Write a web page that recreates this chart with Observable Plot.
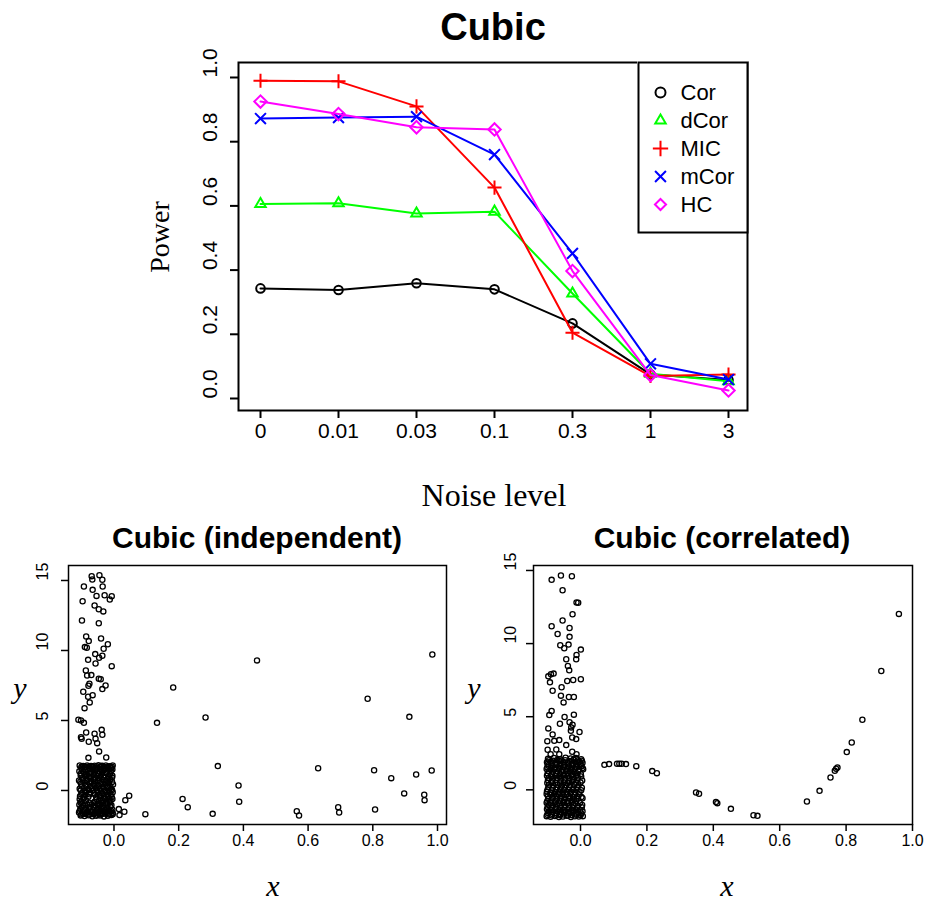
<!DOCTYPE html>
<html><head><meta charset="utf-8">
<script src="https://cdn.jsdelivr.net/npm/d3@7"></script>
<script src="https://cdn.jsdelivr.net/npm/@observablehq/plot@0.6"></script>
<style>
html,body{margin:0;padding:0;background:#fff;}
#root{position:relative;width:927px;height:904px;overflow:hidden;font-family:"Liberation Sans",Arial,sans-serif;}
.abs{position:absolute;}
.ttl{font-family:"Liberation Sans",Arial,sans-serif;font-weight:bold;color:#000;white-space:nowrap;transform:translate(-50%,-50%);line-height:1;}
.serif{font-family:"Liberation Serif","Times New Roman",serif;white-space:nowrap;transform:translate(-50%,-50%);line-height:1;color:#000;}
.abs svg{overflow:visible;}
</style></head><body><div id="root"></div>
<script>
// ---------------- data ----------------
const noiseLevels = ["0", "0.01", "0.03", "0.1", "0.3", "1", "3"];
const methods = ["Cor", "dCor", "MIC", "mCor", "HC"];
const powerCor  = [0.343, 0.338, 0.359, 0.340, 0.234, 0.075, 0.058];
const powerDCor = [0.606, 0.608, 0.576, 0.582, 0.327, 0.077, 0.054];
const powerMIC  = [0.990, 0.988, 0.910, 0.657, 0.205, 0.070, 0.075];
const powerMCor = [0.872, 0.875, 0.878, 0.760, 0.452, 0.108, 0.059];
const powerHC   = [0.925, 0.886, 0.845, 0.838, 0.397, 0.073, 0.025];
const powerTicks = [0, 0.2, 0.4, 0.6, 0.8, 1.0];

const scatterXTicks = [0, 0.2, 0.4, 0.6, 0.8, 1.0];
const scatterYTicks = [0, 5, 10, 15];

// independent: sparse points along x
const indepSparse = [[0.984,9.71],[0.442,9.29],[0.183,7.36],[0.784,6.55],[0.913,5.26],[0.283,5.21],[0.133,4.83],[0.321,1.74],[0.631,1.59],[0.804,1.45],[0.982,1.43],[0.934,1.14],[0.857,0.88],[0.385,0.36],[0.897,-0.21],[0.959,-0.31],[0.960,-0.69],[0.212,-0.60],[0.047,-0.38],[0.035,-0.69],[0.228,-1.19],[0.387,-0.81],[0.015,-1.33],[0.032,-1.52],[0.017,-1.76],[0.097,-1.69],[0.305,-1.67],[0.565,-1.48],[0.572,-1.79],[0.693,-1.19],[0.696,-1.57],[0.807,-1.36]];
// independent: tall column near x < 0
const indepColumn = [[-0.069,15.31],[-0.045,15.38],[-0.067,15.07],[-0.036,15.05],[-0.093,14.57],[-0.035,14.57],[-0.066,14.33],[-0.054,13.90],[-0.029,13.95],[-0.007,13.88],[-0.013,13.64],[-0.097,13.52],[-0.060,13.21],[-0.047,12.95],[-0.033,12.79],[-0.099,12.14],[-0.047,11.95],[-0.086,11.00],[-0.040,10.86],[-0.078,10.67],[-0.019,10.45],[-0.090,10.24],[-0.084,10.19],[-0.032,10.12],[-0.058,9.74],[-0.036,9.62],[-0.080,9.33],[-0.046,9.48],[-0.057,9.07],[-0.007,8.88],[-0.087,8.57],[-0.083,8.21],[-0.070,8.24],[-0.047,7.98],[-0.041,7.95],[-0.076,7.62],[-0.079,7.48],[-0.026,7.50],[-0.036,7.24],[-0.095,7.05],[-0.066,6.81],[-0.080,6.69],[-0.075,6.29],[-0.091,5.88],[-0.110,5.05],[-0.102,5.00],[-0.093,4.83],[-0.038,4.33],[-0.086,4.14],[-0.060,4.05],[-0.036,3.98],[-0.102,3.81],[-0.100,3.69],[-0.057,3.69],[-0.078,3.48],[-0.052,3.38],[-0.046,2.79],[-0.079,2.33],[-0.024,2.36]];
// independent: dense block
const indepBlock = [
[-0.106,1.78],[-0.095,1.75],[-0.083,1.79],[-0.071,1.74],[-0.060,1.77],[-0.048,1.80],[-0.037,1.76],[-0.025,1.78],[-0.013,1.73],[-0.004,1.79],
[-0.100,1.71],[-0.089,1.69],[-0.077,1.72],[-0.065,1.70],[-0.054,1.73],[-0.042,1.71],[-0.031,1.69],[-0.019,1.72],[-0.007,1.70],
[-0.101,1.62],[-0.089,1.66],[-0.077,1.60],[-0.066,1.64],[-0.054,1.58],[-0.042,1.67],[-0.031,1.61],[-0.019,1.65],[-0.008,1.59],
[-0.100,1.52],[-0.088,1.47],[-0.076,1.54],[-0.064,1.49],[-0.052,1.51],[-0.040,1.46],[-0.028,1.53],[-0.016,1.48],[-0.005,1.50],
[-0.107,1.38],[-0.094,1.31],[-0.081,1.40],[-0.070,1.29],[-0.058,1.36],[-0.045,1.33],[-0.033,1.42],[-0.022,1.30],[-0.010,1.37],
[-0.102,1.22],[-0.087,1.18],[-0.074,1.24],[-0.061,1.17],[-0.049,1.21],[-0.037,1.19],[-0.025,1.25],[-0.012,1.16],
[-0.103,1.08],[-0.090,1.02],[-0.078,0.99],[-0.064,1.11],[-0.052,1.04],[-0.041,0.97],[-0.028,1.09],[-0.016,1.01],[-0.005,1.06],
[-0.099,0.88],[-0.085,0.93],[-0.072,0.86],[-0.058,0.91],[-0.046,0.89],[-0.031,0.94],[-0.019,0.87],[-0.006,0.92],
[-0.108,0.71],[-0.096,0.78],[-0.084,0.74],[-0.072,0.69],[-0.061,0.80],[-0.049,0.73],[-0.036,0.76],[-0.024,0.70],[-0.012,0.79],
[-0.104,0.62],[-0.091,0.57],[-0.069,0.60],[-0.057,0.64],[-0.043,0.56],[-0.030,0.63],[-0.018,0.59],[-0.006,0.61],
[-0.102,0.48],[-0.088,0.42],[-0.075,0.51],[-0.063,0.44],[-0.051,0.39],[-0.039,0.47],[-0.027,0.41],[-0.015,0.50],[-0.003,0.43],
[-0.100,0.28],[-0.086,0.33],[-0.073,0.26],[-0.060,0.31],[-0.047,0.34],[-0.034,0.27],[-0.021,0.32],[-0.011,0.29],
[-0.106,0.12],[-0.093,0.18],[-0.080,0.09],[-0.068,0.16],[-0.056,0.20],[-0.044,0.11],[-0.032,0.14],[-0.020,0.19],[-0.009,0.08],
[-0.103,0.02],[-0.090,-0.03],[-0.077,0.04],[-0.064,-0.01],[-0.052,0.03],[-0.040,-0.04],[-0.028,0.01],[-0.016,-0.02],[-0.006,0.03],
[-0.099,-0.18],[-0.087,-0.11],[-0.074,-0.16],[-0.062,-0.21],[-0.050,-0.13],[-0.038,-0.19],[-0.026,-0.09],[-0.014,-0.17],[-0.004,-0.12],
[-0.101,-0.28],[-0.089,-0.33],[-0.075,-0.27],[-0.058,-0.31],[-0.045,-0.34],[-0.033,-0.26],[-0.020,-0.30],[-0.010,-0.32],
[-0.105,-0.42],[-0.092,-0.49],[-0.079,-0.44],[-0.055,-0.47],[-0.043,-0.41],[-0.030,-0.51],[-0.018,-0.43],[-0.007,-0.46],
[-0.106,-0.62],[-0.094,-0.58],[-0.054,-0.61],[-0.041,-0.57],[-0.028,-0.63],[-0.016,-0.59],[-0.005,-0.60],
[-0.101,-0.78],[-0.086,-0.71],[-0.060,-0.80],[-0.047,-0.73],[-0.035,-0.69],[-0.023,-0.77],[-0.011,-0.74],
[-0.103,-0.88],[-0.090,-0.93],[-0.076,-0.87],[-0.063,-0.91],[-0.050,-0.94],[-0.038,-0.89],[-0.026,-0.92],[-0.013,-0.86],
[-0.107,-1.02],[-0.095,-1.09],[-0.082,-1.04],[-0.069,-0.99],[-0.057,-1.08],[-0.045,-1.03],[-0.032,-1.11],[-0.020,-1.00],[-0.008,-1.06],
[-0.100,-1.18],[-0.088,-1.23],[-0.075,-1.20],[-0.062,-1.16],[-0.049,-1.24],[-0.036,-1.19],[-0.024,-1.22],[-0.011,-1.17],
[-0.104,-1.33],[-0.091,-1.38],[-0.078,-1.30],[-0.065,-1.41],[-0.053,-1.36],[-0.040,-1.31],[-0.029,-1.39],[-0.016,-1.34],[-0.005,-1.37],
[-0.106,-1.47],[-0.093,-1.50],[-0.081,-1.46],[-0.068,-1.52],[-0.056,-1.48],[-0.044,-1.45],[-0.033,-1.51],[-0.020,-1.49],[-0.009,-1.46],
[-0.108,-1.58],[-0.097,-1.63],[-0.085,-1.60],[-0.072,-1.56],[-0.061,-1.64],[-0.049,-1.59],[-0.037,-1.62],[-0.026,-1.57],[-0.014,-1.65],[-0.004,-1.61],
[-0.101,-1.71],[-0.088,-1.68],[-0.075,-1.72],[-0.063,-1.69],[-0.051,-1.73],[-0.039,-1.70],[-0.027,-1.67],[-0.015,-1.72],[-0.004,-1.69],
[-0.103,-1.79],[-0.091,-1.83],[-0.079,-1.77],[-0.067,-1.84],[-0.055,-1.80],[-0.043,-1.78],[-0.031,-1.85],[-0.019,-1.81],[-0.008,-1.76]
];

// correlated: points along the cubic curve
const corrCurve = [[0.072,1.71],[0.086,1.76],[0.110,1.78],[0.117,1.78],[0.124,1.78],[0.137,1.76],[0.168,1.62],[0.216,1.28],[0.230,1.14],[0.348,-0.18],[0.357,-0.27],[0.408,-0.84],[0.412,-0.91],[0.453,-1.30],[0.521,-1.74],[0.533,-1.78],[0.682,-0.80],[0.720,-0.07],[0.753,0.84],[0.766,1.30],[0.770,1.44],[0.774,1.53],[0.802,2.58],[0.817,3.24],[0.849,4.79],[0.906,8.13],[0.959,12.03]];
// correlated: tall column near x < 0
const corrColumn = [[-0.087,14.36],[-0.059,14.66],[-0.026,14.61],[-0.054,13.65],[-0.012,12.81],[-0.007,12.79],[-0.024,12.01],[-0.054,11.58],[-0.087,11.19],[-0.069,10.66],[-0.033,11.07],[-0.033,10.46],[-0.061,9.89],[-0.049,9.68],[-0.036,9.93],[0.001,9.59],[-0.012,9.22],[-0.013,8.93],[-0.043,8.93],[-0.038,8.47],[-0.034,8.17],[-0.097,7.76],[-0.089,7.90],[-0.081,7.95],[-0.092,7.35],[-0.040,7.44],[-0.022,7.51],[0.001,7.56],[-0.057,7.01],[-0.084,6.78],[-0.059,6.44],[-0.035,6.35],[-0.020,6.35],[-0.051,5.98],[-0.087,5.39],[-0.094,5.11],[-0.048,4.98],[-0.020,5.14],[-0.033,4.63],[-0.062,4.52],[-0.024,4.45],[-0.028,4.27],[-0.029,4.04],[-0.003,3.95],[-0.097,4.20],[-0.084,3.79],[-0.025,3.58],[-0.013,3.47],[-0.100,3.33],[-0.079,3.35],[-0.064,3.40],[-0.043,3.06],[-0.099,2.74],[-0.073,2.76],[-0.025,2.60],[-0.090,2.44],[-0.064,2.44],[-0.012,2.44]];
// correlated: dense block
const corrBlock = [
[-0.098,2.12],[-0.080,2.18],[-0.061,2.10],[-0.045,2.20],[-0.030,2.14],[-0.014,2.17],[0.002,2.09],
[-0.095,2.02],[-0.083,1.99],[-0.070,2.04],[-0.058,2.00],[-0.046,2.03],[-0.033,1.98],[-0.021,2.05],[-0.008,2.01],[0.004,1.99],
[-0.101,1.88],[-0.089,1.93],[-0.076,1.86],[-0.064,1.95],[-0.052,1.90],[-0.039,1.87],[-0.027,1.94],[-0.015,1.89],[-0.003,1.92],[0.006,1.85],
[-0.099,1.78],[-0.087,1.75],[-0.074,1.79],[-0.062,1.76],[-0.050,1.80],[-0.037,1.74],[-0.025,1.78],[-0.013,1.77],[0.000,1.75],
[-0.097,1.66],[-0.085,1.61],[-0.072,1.69],[-0.060,1.63],[-0.048,1.67],[-0.035,1.60],[-0.023,1.68],[-0.011,1.64],[0.003,1.62],
[-0.100,1.54],[-0.088,1.50],[-0.075,1.53],[-0.063,1.49],[-0.050,1.55],[-0.038,1.51],[-0.026,1.48],[-0.013,1.53],[0.006,1.50],
[-0.102,1.42],[-0.090,1.37],[-0.078,1.44],[-0.066,1.39],[-0.054,1.35],[-0.041,1.43],[-0.029,1.38],[-0.017,1.41],[-0.005,1.36],[0.008,1.40],
[-0.096,1.27],[-0.083,1.22],[-0.069,1.26],[-0.057,1.23],[-0.044,1.28],[-0.031,1.24],[-0.019,1.21],[-0.007,1.26],
[-0.099,1.12],[-0.086,1.06],[-0.073,1.14],[-0.061,1.09],[-0.049,1.04],[-0.037,1.11],[-0.025,1.07],[-0.012,1.13],[0.001,1.08],
[-0.101,0.97],[-0.089,0.93],[-0.076,0.96],[-0.064,0.92],[-0.052,0.98],[-0.040,0.94],[-0.027,0.99],[-0.014,0.95],[0.002,0.91],
[-0.096,0.83],[-0.083,0.77],[-0.070,0.81],[-0.058,0.85],[-0.046,0.78],[-0.033,0.82],[-0.020,0.76],[-0.008,0.84],
[-0.098,0.66],[-0.085,0.62],[-0.072,0.68],[-0.060,0.63],[-0.047,0.67],[-0.035,0.61],[-0.022,0.65],[-0.010,0.69],[0.005,0.64],
[-0.100,0.47],[-0.088,0.53],[-0.075,0.49],[-0.062,0.44],[-0.050,0.52],[-0.038,0.46],[-0.026,0.55],[-0.013,0.48],[0.000,0.51],
[-0.095,0.34],[-0.082,0.30],[-0.069,0.35],[-0.056,0.29],[-0.044,0.33],[-0.031,0.31],[-0.019,0.36],[-0.006,0.30],
[-0.097,0.18],[-0.084,0.12],[-0.071,0.16],[-0.059,0.21],[-0.047,0.13],[-0.034,0.19],[-0.022,0.10],[-0.010,0.17],[0.004,0.14],
[-0.099,0.02],[-0.086,-0.03],[-0.074,0.01],[-0.061,0.04],[-0.049,-0.02],[-0.036,0.03],[-0.024,-0.01],[-0.012,0.02],[0.002,-0.03],
[-0.101,-0.12],[-0.089,-0.18],[-0.077,-0.14],[-0.064,-0.20],[-0.052,-0.11],[-0.040,-0.17],[-0.028,-0.13],[-0.016,-0.19],[-0.003,-0.15],
[-0.102,-0.28],[-0.091,-0.32],[-0.079,-0.27],[-0.066,-0.33],[-0.054,-0.29],[-0.042,-0.31],[-0.030,-0.26],[-0.017,-0.34],[-0.005,-0.30],
[-0.098,-0.43],[-0.085,-0.48],[-0.073,-0.41],[-0.060,-0.46],[-0.048,-0.50],[-0.035,-0.42],[-0.023,-0.47],[-0.010,-0.44],[0.003,-0.49],
[-0.097,-0.62],[-0.084,-0.58],[-0.071,-0.63],[-0.058,-0.59],[-0.045,-0.61],[-0.032,-0.57],[-0.019,-0.64],[-0.007,-0.60],[0.006,-0.58],
[-0.100,-0.77],[-0.087,-0.72],[-0.074,-0.79],[-0.062,-0.74],[-0.049,-0.70],[-0.037,-0.78],[-0.025,-0.73],[-0.013,-0.76],
[-0.102,-0.88],[-0.090,-0.92],[-0.077,-0.87],[-0.064,-0.93],[-0.052,-0.89],[-0.040,-0.91],[-0.027,-0.86],[-0.015,-0.94],[-0.002,-0.90],
[-0.096,-1.03],[-0.083,-1.08],[-0.071,-1.01],[-0.058,-1.10],[-0.046,-1.05],[-0.034,-1.07],[-0.021,-1.02],[-0.008,-1.09],[0.005,-1.04],
[-0.099,-1.18],[-0.087,-1.23],[-0.074,-1.19],[-0.061,-1.22],[-0.048,-1.17],[-0.035,-1.24],[-0.023,-1.20],[-0.010,-1.21],[0.004,-1.19],
[-0.101,-1.33],[-0.088,-1.38],[-0.076,-1.31],[-0.063,-1.36],[-0.051,-1.40],[-0.039,-1.32],[-0.026,-1.37],[-0.014,-1.34],[-0.001,-1.39],
[-0.096,-1.47],[-0.083,-1.50],[-0.070,-1.46],[-0.058,-1.52],[-0.045,-1.48],[-0.033,-1.51],[-0.020,-1.45],[-0.008,-1.49],[0.006,-1.47],
[-0.098,-1.58],[-0.086,-1.63],[-0.073,-1.60],[-0.061,-1.65],[-0.048,-1.57],[-0.036,-1.62],[-0.024,-1.59],[-0.011,-1.64],[0.002,-1.61],
[-0.100,-1.71],[-0.087,-1.74],[-0.074,-1.70],[-0.062,-1.73],[-0.050,-1.69],[-0.038,-1.75],[-0.026,-1.72],[-0.013,-1.70],[0.000,-1.73],
[-0.102,-1.80],[-0.090,-1.84],[-0.077,-1.79],[-0.065,-1.86],[-0.053,-1.82],[-0.041,-1.78],[-0.029,-1.85],[-0.017,-1.81],[-0.005,-1.83],[0.007,-1.80]
];

// ---------------- styling ----------------
const methodColors = ["#000000", "#00ff00", "#ff0000", "#0000ff", "#ff00ff"];
const methodSymbols = ["circle", "triangle2", "plus", "times", "diamond2"];
const methodR = {Cor: 4.3, dCor: 5.0, MIC: 4.6, mCor: 5.0, HC: 5.6};
const sans = "'Liberation Sans', Arial, Helvetica, sans-serif";

const powerSeries = [powerCor, powerDCor, powerMIC, powerMCor, powerHC];
const rows = [];
methods.forEach((m, i) => powerSeries[i].forEach((v, j) => rows.push({method: m, noise: noiseLevels[j], power: v})));

const root = document.getElementById("root");
function place(node, left, top) {
  const d = document.createElement("div");
  d.className = "abs";
  d.style.left = left + "px"; d.style.top = top + "px";
  d.appendChild(node);
  root.appendChild(d);
  return d;
}
function label(text, cls, x, y, size, extra) {
  const d = document.createElement("div");
  d.className = "abs " + cls;
  d.textContent = text;
  d.style.left = x + "px"; d.style.top = y + "px";
  d.style.fontSize = size + "px";
  if (extra) Object.assign(d.style, extra);
  root.appendChild(d);
  return d;
}

// ---------------- top chart ----------------
const seriesMarks = [];
methods.forEach(m => {
  const sub = rows.filter(r => r.method === m);
  seriesMarks.push(Plot.line(sub, {x: "noise", y: "power", stroke: "method", strokeWidth: 2}));
  seriesMarks.push(Plot.dot(sub, {x: "noise", y: "power", symbol: "method", stroke: "method", fill: "none", r: methodR[m], strokeWidth: 2}));
});

const topChart = Plot.plot({
  width: 927, height: 460,
  marginLeft: 238, marginRight: 180, marginTop: 62, marginBottom: 50,
  style: {fontFamily: sans, fontSize: "21px", background: "transparent", color: "black"},
  x: {type: "point", domain: noiseLevels, padding: 0, insetLeft: 22, insetRight: 19},
  y: {domain: [-0.0374, 1.0467]},
  color: {domain: methods, range: methodColors},
  symbol: {domain: methods, range: methodSymbols},
  marks: [
    Plot.axisX({tickSize: 8, tickFormat: () => "", label: null, strokeWidth: 2}),
    Plot.axisY(powerTicks, {tickSize: 8, tickFormat: () => "", label: null, strokeWidth: 2}),
    Plot.text(noiseLevels, {x: d => d, text: d => d, frameAnchor: "bottom", dy: 27, fontSize: 21}),
    Plot.text(powerTicks, {y: d => d, text: d => d.toFixed(1), frameAnchor: "left", dx: -28, rotate: -90, fontSize: 21}),
    ...seriesMarks,
    Plot.frame({stroke: "black", strokeWidth: 2})
  ]
});
place(topChart, 0, 0);

// legend
const legend = Plot.plot({
  width: 111, height: 172, margin: 1,
  style: {fontFamily: sans, background: "white", color: "black"},
  x: {domain: [0, 1], axis: null},
  y: {type: "point", domain: methods, range: [31, 143], padding: 0, axis: null},
  color: {domain: methods, range: methodColors},
  symbol: {domain: methods, range: methodSymbols},
  marks: [
    Plot.dot(methods, {y: d => d, frameAnchor: "left", dx: 22, symbol: d => d, stroke: d => d, fill: "none", r: 5, strokeWidth: 2}),
    Plot.text(methods, {y: d => d, text: d => d, frameAnchor: "left", dx: 42, textAnchor: "start", fontSize: 22}),
    Plot.frame({stroke: "black", strokeWidth: 2})
  ]
});
place(legend, 637, 61);

label("Cubic", "ttl", 493, 27, 38);
label("Power", "serif", 160, 237, 28, {transform: "translate(-50%,-50%) rotate(-90deg)"});
label("Noise level", "serif", 494, 495, 32);

// ---------------- scatter plots ----------------
function scatter(groups, opt) {
  const all = groups.flat();
  return Plot.plot({
    width: opt.width, height: 320,
    marginLeft: opt.ml, marginRight: opt.mr, marginTop: 20, marginBottom: 41,
    style: {fontFamily: sans, fontSize: "16px", background: "transparent", color: "black"},
    x: {domain: opt.xd},
    y: {domain: opt.yd},
    marks: [
      Plot.axisX(scatterXTicks, {tickSize: 7, tickFormat: () => "", label: null, strokeWidth: 1.5}),
      Plot.axisY(scatterYTicks, {tickSize: 7, tickFormat: () => "", label: null, strokeWidth: 1.5}),
      Plot.text(scatterXTicks, {x: d => d, text: d => d.toFixed(1), frameAnchor: "bottom", dy: 21, fontSize: 16}),
      Plot.text(scatterYTicks, {y: d => d, text: d => String(d), frameAnchor: "left", dx: opt.ydx, rotate: -90, fontSize: 16}),
      Plot.dot(all, {x: d => d[0], y: d => d[1], r: 2.6, stroke: "black", fill: "none", strokeWidth: 1.3}),
      Plot.frame({stroke: "black", strokeWidth: 1.5})
    ]
  });
}

const leftScatter = scatter([indepSparse, indepColumn, indepBlock], {width: 463, ml: 68, mr: 17, xd: [-0.1406, 1.0278], yd: [-2.43, 16.07], ydx: -26});
place(leftScatter, 0, 545);
const rightScatter = scatter([corrCurve, corrColumn, corrBlock], {width: 464, ml: 70, mr: 15, xd: [-0.1416, 1.0], yd: [-2.37, 15.34], ydx: -23});
place(rightScatter, 463, 545);

label("Cubic (independent)", "ttl", 257, 538, 30);
label("Cubic (correlated)", "ttl", 722, 538, 30);
label("x", "serif", 273, 886, 30, {fontStyle: "italic"});
label("x", "serif", 727, 886, 30, {fontStyle: "italic"});
label("y", "serif", 20, 688, 30, {fontStyle: "italic"});
label("y", "serif", 474, 688, 30, {fontStyle: "italic"});
</script></body></html>
